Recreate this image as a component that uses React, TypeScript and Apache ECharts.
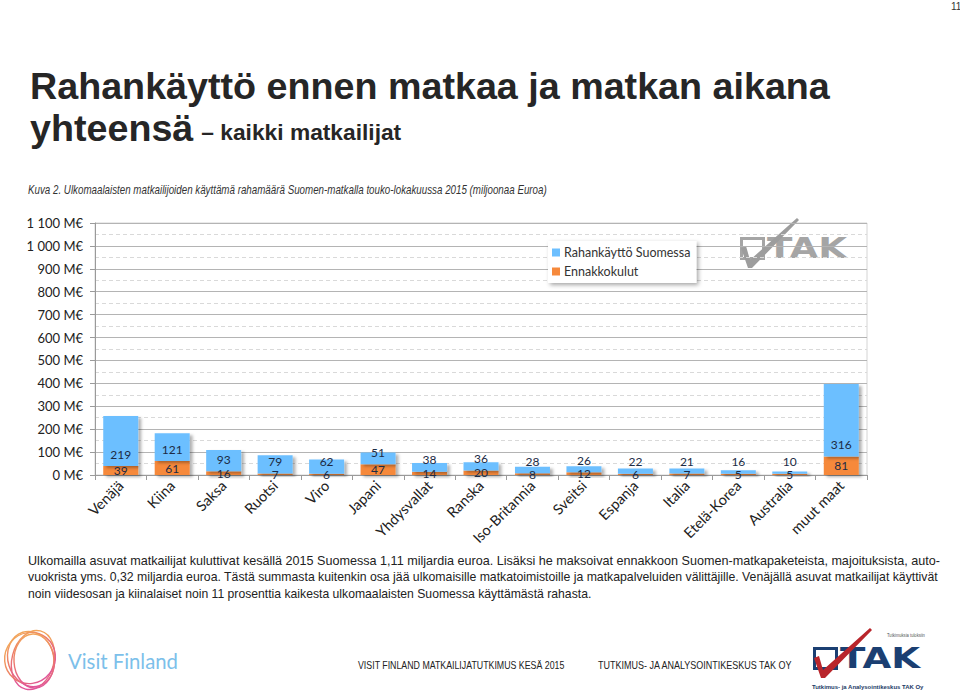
import React, { useEffect, useRef } from "react";
import * as echarts from "echarts";

// ---------- data ----------
const categories = [
  "Venäjä", "Kiina", "Saksa", "Ruotsi", "Viro", "Japani", "Yhdysvallat", "Ranska",
  "Iso-Britannia", "Sveitsi", "Espanja", "Italia", "Etelä-Korea", "Australia", "muut maat",
];
const spendingInFinland = [219, 121, 93, 79, 62, 51, 38, 36, 28, 26, 22, 21, 16, 10, 316];
const advanceCosts = [39, 61, 16, 7, 6, 47, 14, 20, 8, 12, 6, 7, 5, 5, 81];
const seriesNames = ["Rahankäyttö Suomessa", "Ennakkokulut"];
const yMin = 0;
const yMax = 1100;
const yInterval = 100;

const titleLine1 = "Rahankäyttö ennen matkaa ja matkan aikana";
const titleLine2a = "yhteensä";
const titleLine2b = "– kaikki matkailijat";
const subtitle =
  "Kuva 2. Ulkomaalaisten matkailijoiden käyttämä rahamäärä Suomen-matkalla touko-lokakuussa 2015 (miljoonaa Euroa)";
const bodyLines = [
  "Ulkomailla asuvat matkailijat kuluttivat kesällä 2015 Suomessa 1,11 miljardia euroa. Lisäksi he maksoivat ennakkoon Suomen-matkapaketeista, majoituksista, auto-",
  "vuokrista yms. 0,32 miljardia euroa. Tästä summasta kuitenkin osa jää ulkomaisille matkatoimistoille ja matkapalveluiden välittäjille. Venäjällä asuvat matkailijat käyttivät",
  "noin viidesosan ja kiinalaiset noin 11 prosenttia kaikesta ulkomaalaisten Suomessa käyttämästä rahasta.",
];
const footer1 = "VISIT FINLAND MATKAILIJATUTKIMUS KESÄ 2015";
const footer2 = "TUTKIMUS- JA ANALYSOINTIKESKUS TAK OY";
const pageNumber = "11";

// ---------- helpers ----------
const measureCtx = typeof document !== "undefined" ? document.createElement("canvas").getContext("2d") : null;
function measure(text: string, font: string): number {
  if (!measureCtx) return text.length * 6;
  measureCtx.font = font;
  return measureCtx.measureText(text).width;
}

const ARIAL = "'Liberation Sans', Arial, sans-serif";
const CAL = "Lato, 'Open Sans', sans-serif";
const HEAVY = "'DejaVu Sans', 'Liberation Sans', sans-serif";

function fitText(text: string, x: number, y: number, width: number, fontSize: number, opts: any = {}) {
  const fontStyle = opts.fontStyle || "normal";
  const fontWeight = opts.fontWeight || "normal";
  const fontFamily = opts.fontFamily || ARIAL;
  const w = measure(text, `${fontStyle} ${fontWeight} ${fontSize}px ${fontFamily}`);
  const sx = width / w;
  return {
    type: "text",
    x,
    y,
    scaleX: sx,
    silent: true,
    style: {
      text,
      fontSize,
      fontFamily,
      fontStyle,
      fontWeight,
      fill: opts.fill || "#222",
      textAlign: "left",
      textVerticalAlign: "middle",
    },
  };
}

function takLogo(ox: number, oy: number, main: string, check: string, lettersWidth: number, withTexts: boolean) {
  const capH = 21;
  const fs = capH / 0.73;
  const lw = measure("TAK", `bold ${fs}px ${HEAVY}`);
  const children: any[] = [
    {
      type: "rect",
      shape: { x: 1.5, y: 1.5, width: 22, height: capH - 1 },
      style: { fill: "none", stroke: main, lineWidth: 3 },
    },
    {
      type: "text",
      x: 27,
      y: capH / 2 + 1,
      scaleX: lettersWidth / lw,
      style: {
        text: "TAK",
        fontSize: fs,
        fontFamily: HEAVY,
        fontWeight: "bold",
        fill: main,
        textAlign: "left",
        textVerticalAlign: "middle",
      },
    },
    {
      type: "polygon",
      shape: {
        points: [
          [1, 11], [6, 9], [10, 23], [57, -19], [59, -17], [12, 31], [8, 31],
        ],
      },
      style: { fill: check },
    },
  ];
  if (withTexts) {
    children.push(
      fitText("Tutkimuksia tuloksiin", 74, -12, 38, 6, { fill: "#555" }),
      fitText("Tutkimus- ja Analysointikeskus TAK Oy", -1, 40, 112, 6, { fill: "#1b3a66", fontWeight: "bold" })
    );
  }
  return { type: "group", x: ox, y: oy, silent: true, children };
}

function visitFinlandLogo() {
  const grad = () =>
    new echarts.graphic.LinearGradient(0, 0, 0, 1, [
      { offset: 0, color: "#f2a55a" },
      { offset: 0.5, color: "#ec7a6a" },
      { offset: 1, color: "#e0559a" },
    ]);
  const loops = [
    { cx: 31, cy: 659, rx: 23, ry: 28, rot: 0.3 },
    { cx: 33, cy: 660, rx: 21, ry: 30, rot: -0.25 },
    { cx: 30, cy: 658, rx: 26, ry: 25, rot: 0.9 },
    { cx: 34, cy: 661, rx: 20, ry: 27, rot: 0.05 },
  ];
  const children: any[] = loops.map((l) => ({
    type: "ellipse",
    x: l.cx,
    y: l.cy,
    rotation: l.rot,
    shape: { cx: 0, cy: 0, rx: l.rx, ry: l.ry },
    style: { fill: "none", stroke: grad(), lineWidth: 1.4 },
  }));
  children.push(fitText("Visit Finland", 68, 661, 110, 21, { fontFamily: CAL, fill: "#7cc0ea" }));
  return { type: "group", silent: true, children };
}

// ---------- component ----------
export default function App() {
  const ref = useRef<HTMLDivElement>(null);

  useEffect(() => {
    if (!ref.current) return;
    const chart = echarts.init(ref.current, null, { renderer: "svg" });

    const t1Font = 36;
    const t1w = measure(titleLine1, `bold ${t1Font}px ${ARIAL}`);
    const titleScale = 800 / t1w;
    const titleFs = t1Font * titleScale;
    const y2w = measure(titleLine2a, `bold ${titleFs}px ${ARIAL}`);

    const fmt = (v: number) => {
      if (v >= 1000) return `${Math.floor(v / 1000)} ${String(v % 1000).padStart(3, "0")} M€`;
      return `${v} M€`;
    };

    const option: any = {
      animation: false,
      backgroundColor: "#ffffff",
      textStyle: { fontFamily: CAL },
      grid: {
        left: 95,
        right: 93,
        top: 223,
        bottom: 220,
        show: true,
        borderColor: "#d4d4d4",
        borderWidth: 1,
        containLabel: false,
      },
      legend: {
        orient: "vertical",
        left: 548,
        top: 241,
        data: [seriesNames[0], seriesNames[1]],
        icon: "rect",
        itemWidth: 8,
        itemHeight: 8,
        itemGap: 6,
        padding: [5, 6, 5, 4],
        backgroundColor: "#ffffff",
        shadowBlur: 4,
        shadowOffsetX: 2,
        shadowOffsetY: 2,
        shadowColor: "rgba(0,0,0,0.35)",
        textStyle: { fontFamily: CAL, fontSize: 12.5, color: "#333", padding: [0, 0, 0, -1] },
      },
      xAxis: {
        type: "category",
        data: categories,
        axisLine: { lineStyle: { color: "#9a9a9a" } },
        axisTick: { show: true, length: 5, lineStyle: { color: "#9a9a9a" } },
        axisLabel: {
          rotate: 45,
          interval: 0,
          margin: 8,
          fontFamily: CAL,
          fontSize: 14.5,
          color: "#222",
        },
      },
      yAxis: {
        type: "value",
        min: yMin,
        max: yMax,
        interval: yInterval,
        axisLine: { show: true, lineStyle: { color: "#9a9a9a" } },
        axisTick: { show: true, length: 5, lineStyle: { color: "#9a9a9a" } },
        axisLabel: { formatter: fmt, fontFamily: CAL, fontSize: 13, color: "#222", margin: 12 },
        splitLine: { show: true, lineStyle: { color: "#b4b4b4", width: 1 } },
        minorTick: { show: false, splitNumber: 2 },
        minorSplitLine: { show: true, lineStyle: { color: "#d9d9d9", type: [4, 3], width: 1 } },
      },
      series: [
        {
          name: seriesNames[1],
          type: "bar",
          stack: "total",
          data: advanceCosts,
          barCategoryGap: "32%",
          itemStyle: {
            color: "#f6893b",
            shadowBlur: 3,
            shadowOffsetX: 3,
            shadowOffsetY: 2,
            shadowColor: "rgba(0,0,0,0.3)",
          },
          label: {
            show: true,
            position: "inside",
            fontFamily: CAL,
            fontSize: 12,
            color: "#1c2b45",
          },
          z: 2,
        },
        {
          name: seriesNames[0],
          type: "bar",
          stack: "total",
          data: spendingInFinland,
          barCategoryGap: "32%",
          itemStyle: {
            color: "#6cbfff",
            shadowBlur: 3,
            shadowOffsetX: 3,
            shadowOffsetY: 2,
            shadowColor: "rgba(0,0,0,0.3)",
          },
          label: {
            show: true,
            position: "insideBottom",
            distance: 6,
            fontFamily: CAL,
            fontSize: 12,
            color: "#1c2b45",
          },
          z: 2,
        },
      ],
      graphic: [
        {
          type: "text",
          x: 951,
          y: 6,
          silent: true,
          style: {
            text: pageNumber,
            fontSize: 10,
            fontFamily: ARIAL,
            fill: "#333",
            textAlign: "left",
            textVerticalAlign: "middle",
          },
        },
        {
          type: "text",
          x: 30,
          y: 86,
          silent: true,
          style: {
            text: titleLine1,
            fontSize: titleFs,
            fontFamily: ARIAL,
            fontWeight: "bold",
            fill: "#262626",
            textAlign: "left",
            textVerticalAlign: "middle",
          },
        },
        {
          type: "text",
          x: 30,
          y: 128,
          silent: true,
          style: {
            text: titleLine2a,
            fontSize: titleFs,
            fontFamily: ARIAL,
            fontWeight: "bold",
            fill: "#262626",
            textAlign: "left",
            textVerticalAlign: "middle",
          },
        },
        fitText(titleLine2b, 30 + y2w + 8, 133, 200, 22, { fontWeight: "bold", fill: "#262626" }),
        fitText(subtitle, 28, 190, 519, 12, { fontStyle: "italic", fill: "#333" }),
        fitText(bodyLines[0], 28, 560, 912, 13, { fill: "#222" }),
        fitText(bodyLines[1], 28, 577, 912, 13, { fill: "#222" }),
        fitText(bodyLines[2], 28, 594, 564, 13, { fill: "#222" }),
        fitText(footer1, 358, 665, 207, 10, { fill: "#222" }),
        fitText(footer2, 598, 665, 195, 10, { fill: "#222" }),
        takLogo(740, 237, "#a5a5a5", "#9d9d9d", 80, false),
        takLogo(813, 647, "#1b3f72", "#b9252b", 80, true),
        visitFinlandLogo(),
      ],
    };

    chart.setOption(option);
    return () => chart.dispose();
  }, []);

  return (
    <div
      ref={ref}
      style={{ position: "fixed", left: 0, top: 0, width: 960, height: 695, background: "#fff" }}
    />
  );
}
